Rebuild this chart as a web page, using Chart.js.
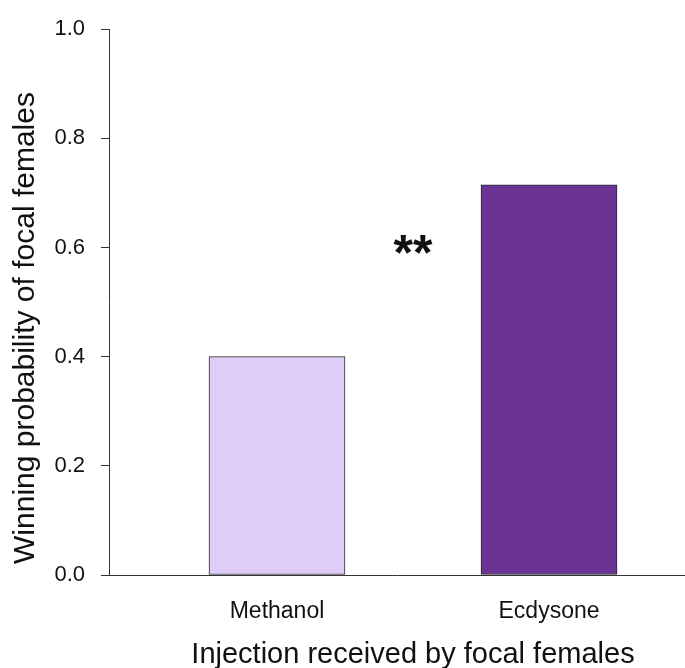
<!DOCTYPE html>
<html>
<head>
<meta charset="utf-8">
<script src="https://cdn.jsdelivr.net/npm/chart.js@4.4.0/dist/chart.umd.min.js"></script>
<style>
  body { margin: 0; background: #fff; }
  canvas { display: block; }
</style>
</head>
<body>
<canvas id="chart" width="685" height="668"></canvas>
<script>
const categories = ["Methanol", "Ecdysone"];
const winProb = [0.40, 0.715];
const barColors = ["#E0CCF9", "#6B3394"];
const yTicks = [0, 0.2, 0.4, 0.6, 0.8, 1.0];
const yTitle = "Winning probability of focal females";
const xTitle = "Injection received by focal females";
const sigMark = "**";
const sigY = 0.558;

const FONT = "'Liberation Sans', Arial, sans-serif";

// axis titles and the significance stars
const extraText = {
  id: "extraText",
  afterDraw(chart) {
    const { ctx, scales: { x, y } } = chart;
    const mid = x.getPixelForValue(1.5);
    ctx.save();
    ctx.fillStyle = "#111";
    ctx.textAlign = "center";
    ctx.textBaseline = "alphabetic";
    ctx.font = `bold 50px ${FONT}`;
    ctx.fillText(sigMark, mid, y.getPixelForValue(sigY));
    ctx.font = `29px ${FONT}`;
    ctx.fillText(xTitle, mid, 663);
    ctx.font = `30px ${FONT}`;
    ctx.translate(26, 328);
    ctx.rotate(-Math.PI / 2);
    ctx.textBaseline = "middle";
    ctx.fillText(yTitle, 0, 0);
    ctx.restore();
  }
};

new Chart(document.getElementById("chart").getContext("2d"), {
  type: "bar",
  data: {
    datasets: [
      {
        data: categories.map((c, i) => ({ x: i + 1, y: winProb[i] })),
        backgroundColor: barColors,
        borderColor: "#2a2a2a",
        borderWidth: 1,
        borderSkipped: false,
        barThickness: 136,
      },
    ],
  },
  options: {
    responsive: false,
    animation: false,
    devicePixelRatio: 1,
    layout: { padding: { top: 24, left: 0, right: 0, bottom: 0 } },
    plugins: {
      legend: { display: false },
      tooltip: { enabled: false },
    },
    scales: {
      x: {
        type: "linear",
        offset: false,
        min: 0.3824,
        max: 2.5,
        afterBuildTicks: (scale) => {
          scale.ticks = categories.map((c, i) => ({ value: i + 1 }));
        },
        afterFit: (scale) => {
          scale.height = 93;
        },
        ticks: {
          callback: (v) => categories[v - 1],
          color: "#111",
          padding: 15,
          font: { family: FONT, size: 23 },
        },
        grid: { display: false, offset: false },
        border: { display: true, color: "#333", width: 1 },
      },
      y: {
        min: 0,
        max: 1,
        afterBuildTicks: (scale) => {
          scale.ticks = yTicks.map((v) => ({ value: v }));
        },
        afterFit: (scale) => {
          scale.width = 109;
        },
        ticks: {
          callback: (v) => v.toFixed(1),
          color: "#111",
          padding: 16,
          font: { family: FONT, size: 22 },
        },
        grid: {
          drawOnChartArea: false,
          drawTicks: true,
          tickLength: 8,
          color: "#333",
        },
        border: { display: true, color: "#333", width: 1 },
      },
    },
  },
  plugins: [extraText],
});
</script>
</body>
</html>
